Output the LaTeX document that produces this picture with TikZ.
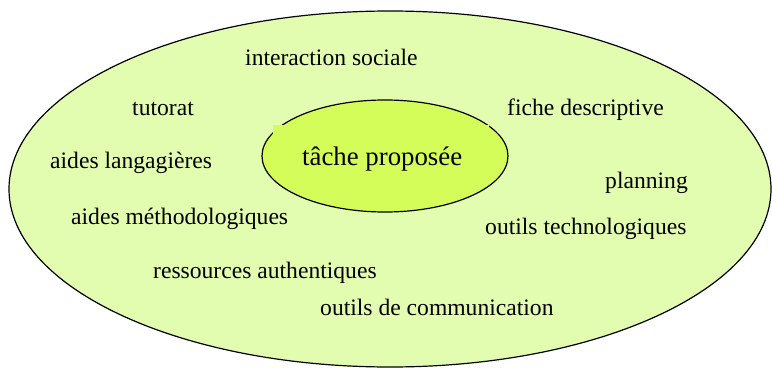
\documentclass[tikz,border=0pt]{standalone}
\usepackage{fontspec}
\setmainfont{Liberation Serif}
\definecolor{outerfill}{RGB}{227,253,176}
\definecolor{innerfill}{RGB}{212,253,90}
\begin{document}
\begin{tikzpicture}[x=1pt,y=-1pt,
  lbl/.style={anchor=base west,inner sep=0pt,font=\fontsize{23.6}{28}\selectfont},
  mainlbl/.style={anchor=base west,inner sep=0pt,font=\fontsize{26.8}{30}\selectfont}]
\useasboundingbox (0,0) rectangle (772,369);
\draw[line width=1.2pt,fill=outerfill] (390,189) ellipse [x radius=381,y radius=178];
\draw[line width=1.2pt,fill=innerfill] (385,156) ellipse [x radius=123,y radius=56];
\fill[innerfill] (273,125) rectangle (489,176);
\node[mainlbl] (tache) at (302,165) {tâche proposée};
\node[lbl] (inter) at (245,66) {interaction sociale};
\node[lbl] (tut) at (132,115) {tutorat};
\node[lbl] (fiche) at (507,116) {fiche descriptive};
\node[lbl] (lang) at (50,168) {aides langagières};
\node[lbl] (plan) at (605,188) {planning};
\node[lbl] (meth) at (71,224) {aides méthodologiques};
\node[lbl] (tech) at (485,234) {outils technologiques};
\node[lbl] (ress) at (153,278) {ressources authentiques};
\node[lbl] (comm) at (320,315) {outils de communication};
\end{tikzpicture}
\end{document}
